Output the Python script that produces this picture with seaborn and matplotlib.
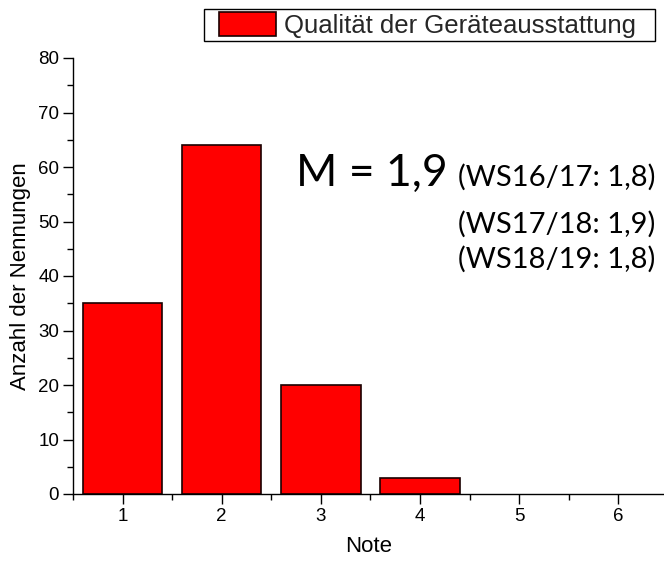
import matplotlib
matplotlib.use("Agg")
import matplotlib.pyplot as plt
from matplotlib.ticker import MultipleLocator
from matplotlib.patches import Rectangle
import seaborn as sns
import pandas as pd

# ---- data ----
noten = [1, 2, 3, 4, 5, 6]
nennungen = [35, 64, 20, 3, 0, 0]
series_label = "Qualität der Geräteausstattung"
mean_text = "M = 1,9"
prev_texts = ["(WS16/17: 1,8)", "(WS17/18: 1,9)", "(WS18/19: 1,8)"]
x_label = "Note"
y_label = "Anzahl der Nennungen"

df = pd.DataFrame({"Note": noten, "Anzahl": nennungen})

sns.set_theme(style="ticks")
plt.rcParams["font.family"] = ["Liberation Sans", "DejaVu Sans"]

W, H = 664, 561
fig = plt.figure(figsize=(W / 100, H / 100), dpi=100)
ax = fig.add_axes([73 / W, 67 / H, 1 - 73 / W, 436 / H])

sns.barplot(data=df, x="Note", y="Anzahl", native_scale=True, width=0.8,
            color="#FF0000", saturation=1, edgecolor="#1a0000", linewidth=1.2,
            label=series_label, ax=ax)
# zero-height bars are not drawn visibly in the reference
for p in ax.patches:
    if p.get_height() == 0:
        p.set_visible(False)

ax.set_xlim(0.5, 6.46)
ax.set_ylim(0, 80)
ax.xaxis.set_major_locator(MultipleLocator(1))
ax.xaxis.set_minor_locator(MultipleLocator(0.5))
ax.yaxis.set_major_locator(MultipleLocator(10))
ax.yaxis.set_minor_locator(MultipleLocator(5))
ax.tick_params(axis="both", which="major", length=7, width=1, color="black",
               labelsize=13.5, pad=3, labelcolor="black")
ax.tick_params(axis="both", which="minor", length=4.5, width=1, color="black")
for s in ["top", "right"]:
    ax.spines[s].set_visible(False)
for s in ["left", "bottom"]:
    ax.spines[s].set_color("black")
    ax.spines[s].set_linewidth(1)

ax.set_xlabel(x_label, fontsize=16, color="black", labelpad=8)
ax.set_ylabel(y_label, fontsize=16, color="black", labelpad=5)

# legend without its own frame; frame drawn around it with the reference's padding
leg = ax.legend(loc="upper right", bbox_to_anchor=(636 / W, 1 - 12 / H),
                bbox_transform=fig.transFigure, fontsize=18.5, frameon=False,
                handlelength=2.2, handleheight=1.08, handletextpad=0.33,
                borderpad=0, borderaxespad=0)
fig.canvas.draw()
bb = leg.get_window_extent()
pad_l, pad_r, pad_v = 15, 19, 3
fig.patches.append(Rectangle(((bb.x0 - pad_l) / W, (bb.y0 - pad_v) / H),
                             (bb.width + pad_l + pad_r) / W,
                             (bb.height + 2 * pad_v) / H,
                             transform=fig.transFigure, fill=False,
                             edgecolor="black", linewidth=1, zorder=5))

calib = ["Lato", "DejaVu Sans"]
fig.text(448 / W, 1 - 186 / H, mean_text, fontsize=32, family=calib,
         ha="right", va="baseline", color="black")
ys = [186, 233, 268]
for t, y in zip(prev_texts, ys):
    fig.text(655 / W, 1 - y / H, t, fontsize=21, family=calib,
             ha="right", va="baseline", color="black")

fig.savefig("out.png", dpi=100)
